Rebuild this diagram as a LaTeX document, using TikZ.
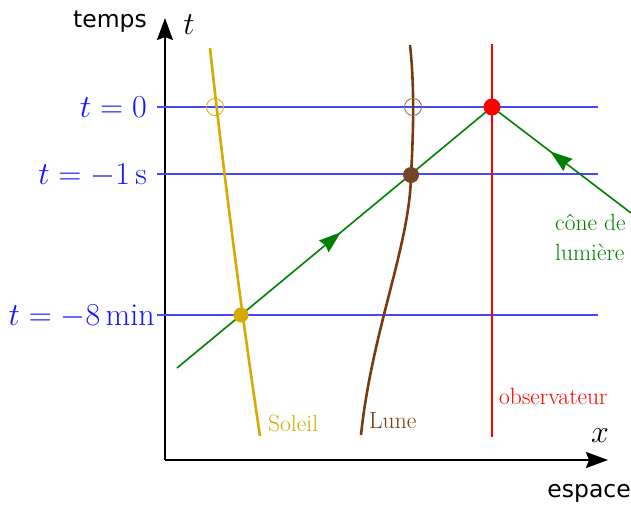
\RequirePackage{fix-cm}
\documentclass[tikz,border=0pt]{standalone}
\usepackage{fontspec}
\newfontfamily\sansf{DejaVu Sans}
\usetikzlibrary{arrows.meta,decorations.markings}
\definecolor{tblue}{RGB}{70,70,255}
\definecolor{lblue}{RGB}{20,20,255}
\definecolor{sun}{RGB}{214,170,0}
\definecolor{moon}{RGB}{120,58,14}
\definecolor{moondot}{RGB}{115,70,40}
\definecolor{cone}{RGB}{0,128,0}
\tikzset{
  axis/.style={line width=2pt,-{Stealth[length=22pt,width=16pt,inset=3pt]}},
  tline/.style={tblue,line width=1.8pt},
  mathlab/.style={font=\fontsize{32}{38}\selectfont,inner sep=0pt},
  txtlab/.style={font=\fontsize{23.5}{28}\selectfont,inner sep=0pt,anchor=base},
  sanslab/.style={font=\sansf\fontsize{23.5}{28}\selectfont,inner sep=0pt,anchor=base},
  dot/.style={circle,inner sep=0pt,minimum size=#1},
  ring/.style={circle,inner sep=0pt,minimum size=17pt,draw,line width=0.8pt},
  light/.style={cone,line width=1.6pt,postaction={decorate},
    decoration={markings,mark=at position #1 with {\arrow{Stealth[length=22pt,width=15pt,inset=2pt]}}}},
}
\begin{document}
\begin{tikzpicture}[x=1pt,y=-1pt]
\useasboundingbox (0,0) rectangle (631,504);
% axes
\coordinate (O) at (165,460);
\coordinate (T) at (165,18);
\coordinate (X) at (608,460);
\draw[axis] (O) -- (T);
\draw[axis] (O) -- (X);
\node[sanslab] (temps) at (110,27) {temps};
\node[mathlab,anchor=base] (tl) at (189,34) {$t$};
\node[mathlab,anchor=base] (xl) at (600,442) {$x$};
\node[sanslab,anchor=base east] (espace) at (631,497) {espace};
% time lines
\coordinate (a0) at (157,107); \coordinate (b0) at (598,107);
\coordinate (a1) at (157,174); \coordinate (b1) at (598,174);
\coordinate (a8) at (157,315); \coordinate (b8) at (598,315);
\draw[tline] (a0) -- (b0);
\draw[tline] (a1) -- (b1);
\draw[tline] (a8) -- (b8);
\node[mathlab,anchor=base east,text=lblue] (l0) at (147,117) {$t=0$};
\node[mathlab,anchor=base east,text=lblue] (l1) at (147,184) {$t=-1\,\mathrm{s}$};
\node[mathlab,anchor=base east,text=lblue] (l8) at (155,325) {$t=-8\,\mathrm{min}$};
% observer
\coordinate (obsT) at (492,44);
\coordinate (obsB) at (492,437);
\draw[red,line width=2.6pt] (obsT) -- (obsB);
% light cone
\coordinate (cL) at (177,368);
\coordinate (cR) at (631,213);
\coordinate (tip) at (492,107);
\draw[light=0.52] (cL) -- (tip);
\draw[light=0.58] (cR) -- (tip);
% sun
\coordinate (sT) at (210,48);
\coordinate (sB) at (260,436);
\draw[sun,line width=2.6pt] (sT) .. controls (220,140) and (238,290) .. (sB);
% moon
\coordinate (mT) at (410,45);
\coordinate (mM) at (411,175);
\coordinate (mB) at (361,435);
\draw[moon,line width=2.6pt] (mT) .. controls (415,90) and (413,140) .. (mM)
  .. controls (410,245) and (372,330) .. (mB);
% dots
\node[ring,draw=sun] (s0) at (215,107) {};
\node[ring,draw=moon!80] (m0) at (413,107) {};
\node[dot=15pt,fill=sun] (s8) at (241,315) {};
\node[dot=16pt,fill=moondot] (m1) at (mM) {};
\node[dot=17pt,fill=red] (obs) at (tip) {};
% labels
\node[txtlab,anchor=base west,text=sun] (soleil) at (268,431) {Soleil};
\node[txtlab,anchor=base west,text=moon] (lune) at (369,428) {Lune};
\node[txtlab,anchor=base west,text=red] (obsl) at (499,404) {observateur};
\node[txtlab,anchor=base west,text=cone] (cone1) at (555,230) {cône de};
\node[txtlab,anchor=base west,text=cone] (cone2) at (555,260) {lumière};
\end{tikzpicture}
\end{document}
